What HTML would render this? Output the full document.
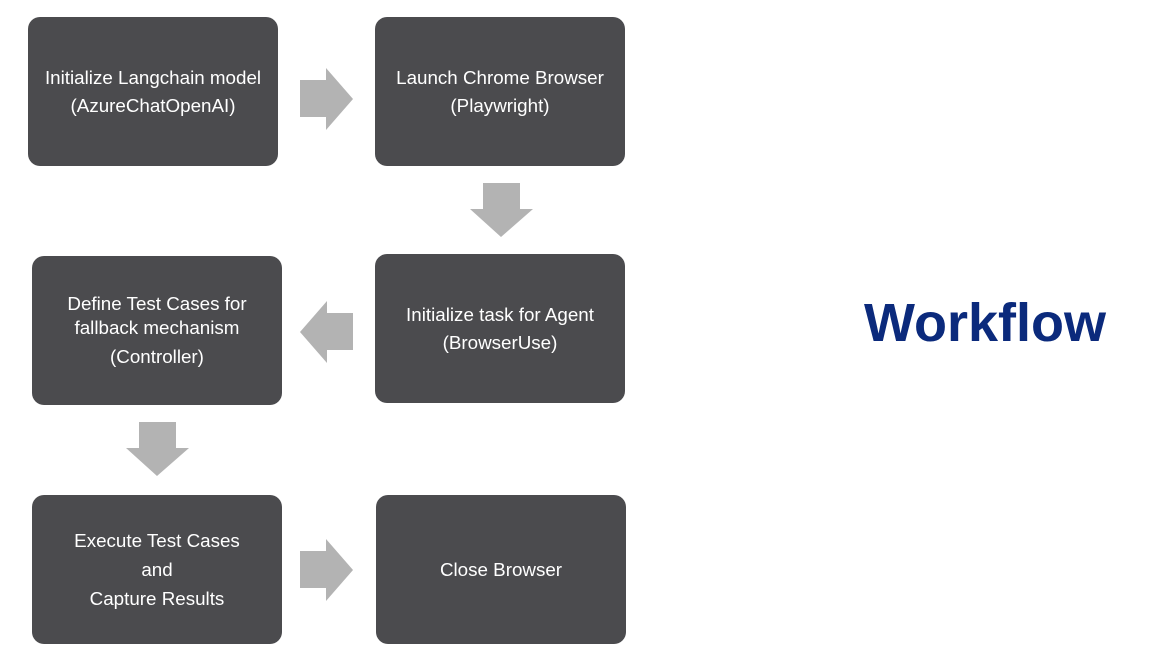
<!DOCTYPE html>
<html><head><style>
body{margin:0;width:1171px;height:662px;background:#fff;position:relative;overflow:hidden;font-family:"Liberation Sans",Arial,sans-serif}
.b{position:absolute;width:250px;height:149px;background:#4b4b4e;border-radius:12px;color:#fff;font-size:18.8px;line-height:28px;display:flex;align-items:center;justify-content:center;text-align:center}
svg{position:absolute;left:0;top:0}
.t{position:absolute;left:864px;top:292px;font-size:54px;font-weight:bold;color:#0b2a7c}
</style></head><body>
<div class="b" style="left:28px;top:17px">Initialize Langchain model<br>(AzureChatOpenAI)</div>
<div class="b" style="left:375px;top:17px">Launch Chrome Browser<br>(Playwright)</div>
<div class="b" style="left:375px;top:254px">Initialize task for Agent<br>(BrowserUse)</div>
<div class="b" style="left:32px;top:256px;line-height:24px"><div>Define Test Cases for<br>fallback mechanism<br><span style="display:inline-block;margin-top:5px">(Controller)</span></div></div>
<div class="b" style="left:32px;top:495px;line-height:29px">Execute Test Cases<br>and<br>Capture Results</div>
<div class="b" style="left:376px;top:495px">Close Browser</div>
<svg width="1171" height="662" fill="#b3b3b3">
<polygon points="300,80 326,80 326,68 353,99 326,130 326,117 300,117"/>
<polygon points="300,551 326,551 326,539 353,570 326,601 326,588 300,588"/>
<polygon points="353,313 327,313 327,301 300,332 327,363 327,350 353,350"/>
<polygon points="483,183 520,183 520,209 533,209 501,237 470,209 483,209"/>
<polygon points="139,422 176,422 176,448 189,448 157,476 126,448 139,448"/>
</svg>
<div class="t">Workflow</div>
</body></html>
